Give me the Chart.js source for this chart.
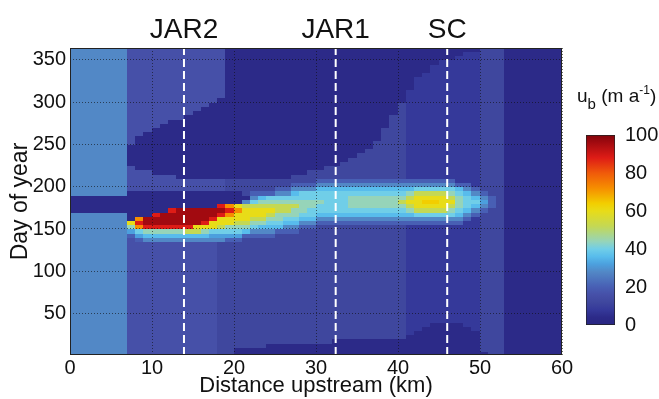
<!DOCTYPE html>
<html>
<head>
<meta charset="utf-8">
<script src="https://cdn.jsdelivr.net/npm/chart.js@4.4.0/dist/chart.umd.min.js"></script>
<style>
  html, body { margin: 0; padding: 0; background: #fff; }
  #wrap { position: relative; width: 659px; height: 399px; font-family: "Liberation Sans", Arial, sans-serif; color: #111; }
  #main { position: absolute; left: 0; top: 0; }
  #bar { position: absolute; left: 577px; top: 110px; }
  #cbLabel { position: absolute; left: 577px; top: 86px; font-size: 19px; line-height: 19px; white-space: nowrap; }
  #cbLabel .sub { font-size: 15px; position: relative; top: 7px; }
  #cbLabel .sup { font-size: 12px; position: relative; top: -8px; }
</style>
</head>
<body>
<div id="wrap">
  <canvas id="main" width="659" height="399"></canvas>
  <canvas id="bar" width="82" height="235"></canvas>
  <div id="cbLabel">u<span class="sub">b</span> (m a<span class="sup">-1</span>)</div>
</div>
<script>
// axes
const xRange = [0, 60];
const dayRange = [1, 364];
const xTicks = [0, 10, 20, 30, 40, 50, 60];
const yTicks = [50, 100, 150, 200, 250, 300, 350];
const cbRange = [0, 100];
const cbTicks = [0, 20, 40, 60, 80, 100];

// sites marked with dashed lines
const siteNames = ['JAR2', 'JAR1', 'SC'];
const siteKm = [13.9, 32.4, 46.0];

// basal velocity u_b, one string per 1 km column (0-1 km first),
// one char per 5 day bin, value = base36(char) * 4 m/a
const colKm = 1;
const binDays = 5;
const lowStart = 0;     // days 0-130
const meltStart = 130;  // days 130-220
const highStart = 220;  // days 220-365

const ubLow = [
  "77777777777777777777777777", "77777777777777777777777777", "77777777777777777777777777",
  "77777777777777777777777777", "77777777777777777777777777", "77777777777777777777777777",
  "77777777777777777777777777",
  "44444444444444444444444444", "44444444444444444444444444", "44444444444444444444444444",
  "44444444444444444444444444", "44444444444444444444444444", "44444444444444444444444444",
  "44444444444444444444444444", "44444444444444444444444444", "44444444444444444444444444",
  "44444444444444444444444444", "44444444444444444444444444",
  "33333333333333333333333333", "33333333333333333333333333",
  "11333333333333333333333333", "11333333333333333333333333", "11333333333333333333333333",
  "11333333333333333333333333",
  "11133333333333333333333333", "11133333333333333333333333", "11133333333333333333333333",
  "11133333333333333333333333", "11133333333333333333333333", "11133333333333333333333333",
  "11133333333333333333333333", "11133333333333333333333333",
  "11113333333333333333333333", "11113333333333333333333333", "11113333333333333333333333",
  "11113333333333333333333333", "11113333333333333333333333", "11113333333333333333333333",
  "11113333333333333333333333", "11113333333333333333333333", "11113333333333333333333333",
  "11111222222222222222222222",
  "11111122222222222222222222",
  "11111112222222222222222222",
  "11111111222222222222222222", "11111111222222222222222222", "11111111222222222222222222",
  "11111111222222222222222222",
  "11111112222222222222222222",
  "11111122222222222222222222",
  "13333333333333333333333333",
  "33333333333333333333333333", "33333333333333333333333333",
  "11111111111111111111111111", "11111111111111111111111111", "11111111111111111111111111",
  "11111111111111111111111111", "11111111111111111111111111", "11111111111111111111111111",
  "11111111111111111111111111"
];

const ubMelt = [
  "777777771111777777", "777777771111777777", "777777771111777777", "777777771111777777",
  "777777771111777777", "777777771111777777", "777777771111777777",
  "4458bf111111144444",
  "458aimi11111144444",
  "479bmoo11111144444",
  "479bmoom1111144441",
  "479bmooo1111144441",
  "479bmooom111144441",
  "479bmoooo111144411",
  "479dmoooo111144411",
  "479dfoooo111144411",
  "479bfmooo111144411",
  "478affmoo111144411",
  "378adffmom11144411",
  "358abffimi11133311",
  "358abdffif11133311",
  "3359bdfffd71333311",
  "3357abdffda7533311",
  "33579bdffdb9533311",
  "33579abdfdba533311",
  "33359abbddba753311",
  "333579abddba753311",
  "333579abbdba975331",
  "3333579abbbaa75331",
  "3333579aabbaa75333",
  "33333579aabaa97533",
  "33333579aaaaa97533", "33333579aaaaa97533", "33333579aaaaa97533",
  "33333579abbba97533", "33333579abbba97533", "33333579abbba97533",
  "33333579abbba97533", "33333579abbba97533", "33333579abbba97533",
  "33333579abdba97533",
  "22222579bdfdb97522",
  "2222257adfffda7522",
  "2222257adfgfda7522",
  "2222257adfgfda7522",
  "2222257adfffda7522",
  "2222257abdfdba7522",
  "22222579abbba95222",
  "222222579aaa975222",
  "2222222579a9752222",
  "333333335787533333",
  "333333333555333333",
  "333333333333333333",
  "111111111111111111", "111111111111111111", "111111111111111111", "111111111111111111",
  "111111111111111111", "111111111111111111", "111111111111111111"
];

const ubHigh = [
  "77777777777777777777777777777", "77777777777777777777777777777", "77777777777777777777777777777",
  "77777777777777777777777777777", "77777777777777777777777777777", "77777777777777777777777777777",
  "77777777777777777777777777777",
  "41111144444444444444444444444",
  "11111111444444444444444444444",
  "11111111144444444444444444444",
  "11111111114444444444444444444",
  "11111111111444444444444444444",
  "11111111111144444444444444444",
  "11111111111144444444444444444",
  "11111111111114444444444444444",
  "11111111111111444444444444444",
  "11111111111111144444444444444",
  "11111111111111114444444444444",
  "11111111111111111444444444444",
  "11111111111111111111111111111", "11111111111111111111111111111", "11111111111111111111111111111",
  "11111111111111111111111111111", "11111111111111111111111111111", "11111111111111111111111111111",
  "11111111111111111111111111111", "11111111111111111111111111111", "11111111111111111111111111111",
  "11111111111111111111111111111", "11111111111111111111111111111", "11111111111111111111111111111",
  "31111111111111111111111111111", "31111111111111111111111111111",
  "33111111111111111111111111111",
  "33311111111111111111111111111",
  "33331111111111111111111111111",
  "33333111111111111111111111111",
  "33333331111111111111111111111",
  "33333333331111111111111111111",
  "33333333333331111111111111111",
  "33333333333333331111111111111",
  "22222222222222222221111111111",
  "22222222222222222222221111111",
  "22222222222222222222222111111",
  "22222222222222222222222221111",
  "22222222222222222222222222111", "22222222222222222222222222111",
  "22222222222222222222222222211",
  "22222222222222222222222222221", "22222222222222222222222222221",
  "33333333333333333333333333333", "33333333333333333333333333333", "33333333333333333333333333333",
  "11111111111111111111111111111", "11111111111111111111111111111", "11111111111111111111111111111",
  "11111111111111111111111111111", "11111111111111111111111111111", "11111111111111111111111111111",
  "11111111111111111111111111111"
];

// colour map (value, r, g, b)
const cmapStops = [
  [0, 40, 38, 130], [4, 44, 42, 136], [8, 53, 57, 154], [12, 63, 71, 158],
  [16, 70, 80, 168], [20, 72, 95, 180], [28, 82, 136, 198], [32, 76, 160, 222],
  [36, 88, 188, 236], [40, 112, 206, 232], [44, 150, 212, 185], [52, 196, 216, 84],
  [60, 232, 220, 24], [64, 242, 206, 0], [72, 246, 142, 0], [80, 240, 90, 10],
  [88, 222, 28, 22], [96, 162, 10, 16], [100, 130, 4, 10]
];

const FONT = '"Liberation Sans", Arial, sans-serif';
const INK = '#111';

function ubColor(v) {
  for (let i = 1; i < cmapStops.length; i++) {
    const a = cmapStops[i - 1], b = cmapStops[i];
    if (v <= b[0]) {
      const t = (v - a[0]) / (b[0] - a[0]);
      const c = [1, 2, 3].map(k => Math.round(a[k] + (b[k] - a[k]) * t));
      return `rgb(${c[0]},${c[1]},${c[2]})`;
    }
  }
  const l = cmapStops[cmapStops.length - 1];
  return `rgb(${l[1]},${l[2]},${l[3]})`;
}

const fieldPlugin = {
  id: 'ubField',
  beforeDraw(chart) {
    const { ctx, chartArea: a, scales: { x, y } } = chart;
    ctx.save();
    ctx.beginPath();
    ctx.rect(a.left, a.top, a.width, a.height);
    ctx.clip();
    const parts = [[ubLow, lowStart], [ubMelt, meltStart], [ubHigh, highStart]];
    for (let c = 0; c < ubLow.length; c++) {
      const x0 = Math.floor(x.getPixelForValue(c * colKm));
      const x1 = Math.ceil(x.getPixelForValue((c + 1) * colKm));
      parts.forEach(([grid, start]) => {
        const col = grid[c];
        for (let k = 0; k < col.length; k++) {
          const v = parseInt(col[k], 36) * 4;
          const yb = y.getPixelForValue(start + k * binDays);
          const yt = y.getPixelForValue(start + (k + 1) * binDays);
          ctx.fillStyle = ubColor(v);
          ctx.fillRect(x0, Math.floor(yt), x1 - x0, Math.ceil(yb) - Math.floor(yt));
        }
      });
    }
    ctx.restore();
  },
  afterDraw(chart) {
    const { ctx, chartArea: a, scales: { x } } = chart;
    ctx.save();
    ctx.strokeStyle = '#222';
    ctx.lineWidth = 1;
    ctx.strokeRect(a.left + 0.5, a.top + 0.5, a.width - 1, a.height - 1);
    ctx.fillStyle = INK;
    ctx.font = '28px ' + FONT;
    ctx.textAlign = 'center';
    ctx.textBaseline = 'alphabetic';
    siteNames.forEach((name, i) => {
      ctx.fillText(name, x.getPixelForValue(siteKm[i]), 38);
    });
    ctx.restore();
  }
};

new Chart(document.getElementById('main'), {
  type: 'scatter',
  data: {
    datasets: siteKm.map((km, i) => ({
      label: siteNames[i],
      data: [{ x: km, y: dayRange[0] }, { x: km, y: dayRange[1] }],
      showLine: true,
      borderColor: '#ffffff',
      borderWidth: 2,
      borderDash: [8, 4],
      pointRadius: 0
    }))
  },
  options: {
    responsive: false,
    animation: false,
    layout: { padding: { left: 0, right: 97, top: 48, bottom: 0 } },
    plugins: { legend: { display: false }, tooltip: { enabled: false } },
    scales: {
      x: {
        type: 'linear', min: xRange[0], max: xRange[1],
        afterBuildTicks: s => { s.ticks = xTicks.map(v => ({ value: v })); },
        afterFit: s => { s.height = 44; },
        grid: { color: 'rgba(15,15,15,0.6)', drawTicks: false },
        border: { display: false, dash: [1, 2] },
        ticks: { color: INK, font: { family: FONT, size: 20 }, padding: 1 },
        title: { display: true, text: 'Distance upstream (km)', color: INK, font: { family: FONT, size: 22 }, padding: { top: 0, bottom: 0 } }
      },
      y: {
        type: 'linear', min: dayRange[0], max: dayRange[1],
        afterBuildTicks: s => { s.ticks = yTicks.map(v => ({ value: v })); },
        afterFit: s => { s.width = 70; },
        grid: { color: 'rgba(15,15,15,0.6)', drawTicks: false },
        border: { display: false, dash: [1, 2] },
        ticks: { color: INK, font: { family: FONT, size: 20 }, padding: 4 },
        title: { display: true, text: 'Day of year', color: INK, font: { family: FONT, size: 23 }, padding: { top: 7, bottom: 0 } }
      }
    }
  },
  plugins: [fieldPlugin]
});

// colour bar
function barGradient(context) {
  const chart = context.chart;
  if (!chart.chartArea) return null;
  const y = chart.scales.y;
  const g = chart.ctx.createLinearGradient(0, y.getPixelForValue(cbRange[0]), 0, y.getPixelForValue(cbRange[1]));
  cmapStops.forEach(s => g.addColorStop((s[0] - cbRange[0]) / (cbRange[1] - cbRange[0]), `rgb(${s[1]},${s[2]},${s[3]})`));
  return g;
}

new Chart(document.getElementById('bar'), {
  type: 'bar',
  data: {
    labels: [''],
    datasets: [{
      data: [[cbRange[0], cbRange[1]]],
      backgroundColor: barGradient,
      borderColor: '#222',
      borderWidth: 1,
      borderSkipped: false,
      barPercentage: 1,
      categoryPercentage: 1
    }]
  },
  options: {
    responsive: false,
    animation: false,
    layout: { padding: { left: 9, right: 0, top: 25, bottom: 20 } },
    plugins: { legend: { display: false }, tooltip: { enabled: false } },
    scales: {
      x: { display: false },
      y: {
        position: 'right', min: cbRange[0], max: cbRange[1],
        afterBuildTicks: s => { s.ticks = cbTicks.map(v => ({ value: v })); },
        afterFit: s => { s.width = 44; },
        grid: { display: false },
        border: { display: false },
        ticks: { color: INK, font: { family: FONT, size: 20 }, padding: 2 }
      }
    }
  }
});
</script>
</body>
</html>
